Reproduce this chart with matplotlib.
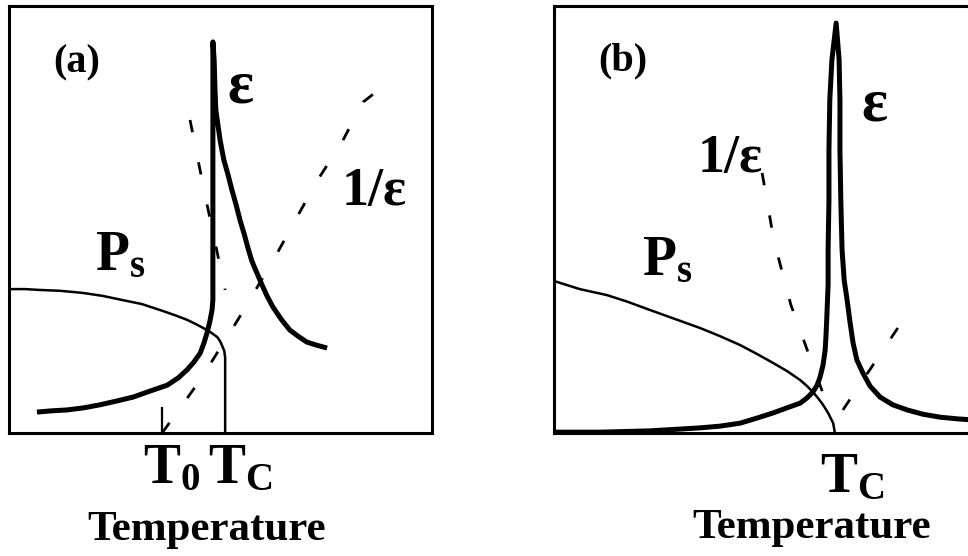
import matplotlib.pyplot as plt

plt.rcParams['font.family'] = ['Liberation Serif', 'DejaVu Serif']
plt.rcParams['font.weight'] = 'bold'
plt.rcParams['lines.scale_dashes'] = False

# (a) first-order transition, temperature and value both on a 0-100 scale
a_ps_t = [0, 3.8, 7.3, 12.1, 17.5, 22.2, 27.0, 31.4, 35.7, 39.2, 42.1, 44.2,
          45.9, 47.5, 49.2, 49.9, 50.4, 50.9, 51.1, 51.1]
a_ps_v = [33.7, 33.7, 33.5, 33.3, 32.8, 32.1, 31.1, 30.2, 28.8, 27.6, 26.5, 25.5,
          24.6, 23.7, 22.5, 21.5, 20.4, 19.2, 17.6, 0]

a_eps_t = [6.6, 10.2, 13.7, 17.7, 21.5, 25.5, 29.3, 33.3, 37.4, 40.0, 42.1, 43.7,
           45.2, 46.1, 46.8, 47.5, 48.0, 48.2, 48.2, 48.2,
           48.5, 48.7, 48.9, 49.4, 49.9, 50.8, 51.8, 52.7, 53.7, 54.6, 55.6, 56.5,
           57.4, 58.6, 59.8, 61.0, 62.4, 64.3, 66.4, 68.3, 70.4, 72.6, 75.2]
a_eps_v = [4.9, 5.2, 5.4, 5.9, 6.6, 7.5, 8.4, 9.8, 11.2, 12.9, 14.8, 16.6,
           18.7, 21.1, 23.4, 26.2, 28.8, 31.1, 33.5, 91.6,
           87.4, 80.3, 75.6, 72.1, 68.6, 63.9, 60.4, 56.9, 53.4, 49.9, 46.6, 43.3,
           40.3, 37.5, 34.7, 32.1, 29.5, 26.7, 24.1, 22.7, 21.3, 20.6, 19.9]

a_inv_lo_t = [42.8, 46.5, 51.1]
a_inv_lo_v = [73.3, 55.0, 33.5]
a_inv_hi_t = [36.2, 45.2, 54.1, 62.9, 68.1, 73.0, 78.7, 83.7, 88.9]
a_inv_hi_v = [0, 12.4, 26.5, 41.2, 50.6, 59.3, 68.1, 77.5, 81.5]

a_t0 = 36.2

# (b) second-order transition
b_ps_t = [0, 6.1, 12.5, 17.5, 22.7, 28.6, 34.5, 39.2, 44.0, 48.0, 51.8, 55.1,
          58.2, 59.8, 61.2, 62.4, 63.6, 64.8, 66.0, 66.4]
b_ps_v = [35.6, 33.7, 32.3, 30.7, 28.8, 26.7, 24.6, 22.7, 20.6, 18.5, 16.4, 14.5,
          12.4, 11.0, 9.6, 8.2, 6.6, 4.7, 2.3, 0]

b_eps_t = [0, 10.9, 22.7, 34.5, 39.2, 44.0, 48.0, 51.8, 55.1, 58.2, 59.8, 61.2,
           62.2, 62.9, 63.6, 64.1, 64.3, 64.5, 64.8, 64.8, 65.0, 65.0, 65.2, 65.7,
           66.7,
           67.4, 67.6, 67.6, 67.8, 68.1, 68.6, 69.3, 70.0, 70.7, 71.6, 73.0, 74.7,
           77.1, 80.1, 83.5, 87.2, 91.3, 95.5, 100]
b_eps_v = [0.2, 0.2, 0.5, 1.2, 1.6, 2.3, 3.5, 4.7, 5.9, 7.0, 8.2, 9.6,
           11.2, 13.1, 15.9, 19.4, 22.7, 27.2, 34.7, 42.9, 54.6, 66.3, 78.0, 87.4,
           96.0,
           87.4, 78.0, 66.3, 54.6, 42.9, 35.8, 31.1, 25.8, 21.1, 17.1, 14.1, 11.0,
           8.4, 6.6, 5.4, 4.4, 3.7, 3.3, 3.0]

b_inv_lo_t = [49.2, 52.0, 56.0, 63.4]
b_inv_lo_v = [60.9, 45.0, 30.0, 9.8]
b_inv_hi_t = [68.3, 82.7]
b_inv_hi_v = [5.4, 26.7]

fig = plt.figure(figsize=(9.68, 5.56), dpi=100)
ax_a = fig.add_axes([9 / 968, 123 / 556, 423 / 968, 427 / 556])
ax_b = fig.add_axes([554 / 968, 123 / 556, 423 / 968, 427 / 556])

for ax in (ax_a, ax_b):
    ax.set_xlim(0, 100)
    ax.set_ylim(0, 100)
    ax.set_xticks([])
    ax.set_yticks([])
    for s in ax.spines.values():
        s.set_linewidth(2.2)

thin = dict(color='black', lw=1.8, solid_joinstyle='round', solid_capstyle='round')
thick = dict(color='black', lw=3.6, solid_joinstyle='round', solid_capstyle='butt')
dash = dict(color='black', lw=2.0, linestyle=(0, (9, 22)))

ax_a.plot(a_ps_t, a_ps_v, **thin)
ax_a.plot(a_eps_t, a_eps_v, **thick)
ax_a.plot(a_inv_lo_t, a_inv_lo_v, **dash)
ax_a.plot(a_inv_hi_t, a_inv_hi_v, **dash)
ax_a.plot([a_t0, a_t0], [0, 5.9], color='black', lw=1.6)

ax_b.plot(b_ps_t, b_ps_v, **thin)
ax_b.plot(b_eps_t, b_eps_v, **thick)
ax_b.plot(b_inv_lo_t, b_inv_lo_v, **dash)
ax_b.plot(b_inv_hi_t, b_inv_hi_v, **dash)

lab = dict(va='baseline', clip_on=False)

ax_a.text(16.1, 84.5, '(a)', ha='center', fontsize=29, **lab)
ax_a.text(54.6, 77.3, 'ε', ha='center', fontsize=44, **lab)
ax_a.text(86.3, 53.4, '1/ε', ha='center', fontsize=39, **lab)
ax_a.text(20.3, 38.2, r'$\mathregular{P_s}$', ha='left', fontsize=40, **lab)
ax_a.text(31.7, -11.7, r'$\mathregular{T_0}$', ha='left', fontsize=40, **lab)
ax_a.text(47.0, -11.7, r'$\mathregular{T_C}$', ha='left', fontsize=40, **lab)
ax_a.text(46.8, -25.1, 'Temperature', ha='center', fontsize=31, **lab)

ax_b.text(16.3, 85.0, '(b)', ha='center', fontsize=29, **lab)
ax_b.text(75.7, 73.3, 'ε', ha='center', fontsize=44, **lab)
ax_b.text(34.0, 61.1, '1/ε', ha='left', fontsize=39, **lab)
ax_b.text(20.8, 37.0, r'$\mathregular{P_s}$', ha='left', fontsize=40, **lab)
ax_b.text(62.9, -13.8, r'$\mathregular{T_C}$', ha='left', fontsize=40, **lab)
ax_b.text(60.8, -24.6, 'Temperature', ha='center', fontsize=31, **lab)

fig.savefig('out.png', dpi=100)
